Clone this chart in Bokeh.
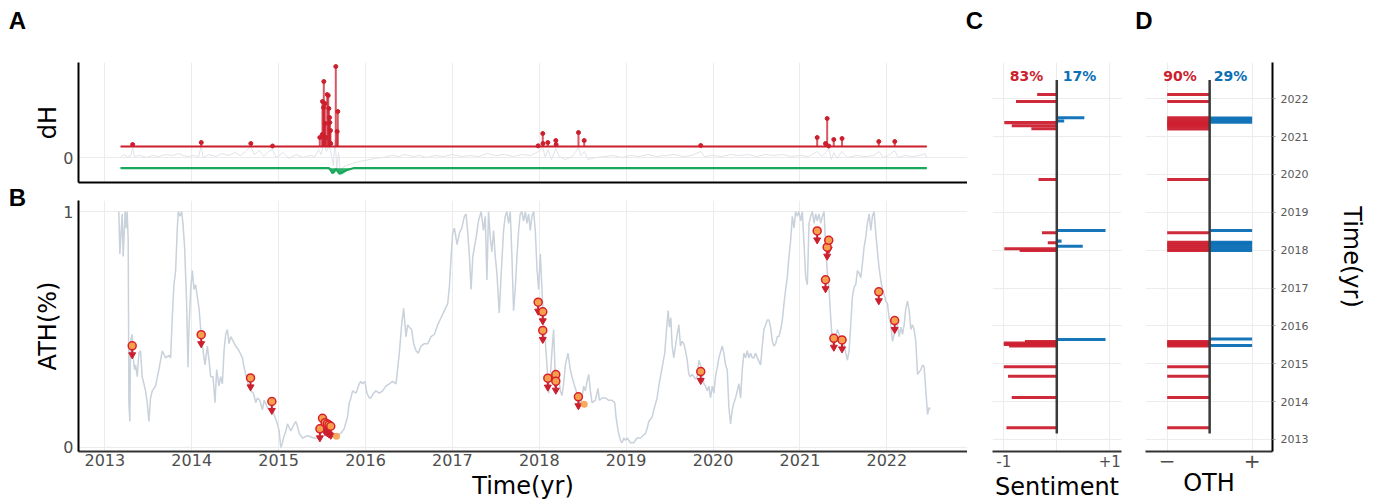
from bokeh.plotting import figure
from bokeh.layouts import row, column
from bokeh.models import FixedTicker, Grid, Range1d
from bokeh.core.properties import value
from bokeh.embed import file_html
from bokeh.resources import INLINE

years = [2013, 2014, 2015, 2016, 2017, 2018, 2019, 2020, 2021, 2022]

# ---------------- B: ATH(%) series ----------------
ath_t = [2013.161, 2013.173, 2013.188, 2013.200, 2013.211, 2013.223, 2013.234, 2013.246, 2013.257, 2013.269,
         2013.277, 2013.288, 2013.296, 2013.315, 2013.327, 2013.342, 2013.354, 2013.373, 2013.392, 2013.411,
         2013.430, 2013.450, 2013.469, 2013.488, 2013.507, 2013.526, 2013.546, 2013.584, 2013.622, 2013.661,
         2013.699, 2013.738, 2013.757, 2013.776, 2013.795, 2013.815, 2013.834, 2013.845, 2013.865, 2013.884,
         2013.899, 2013.918, 2013.941, 2013.957, 2013.968, 2013.988, 2014.007, 2014.026, 2014.045, 2014.064,
         2014.084, 2014.110, 2014.134, 2014.153, 2014.180, 2014.199, 2014.218, 2014.245, 2014.268, 2014.287,
         2014.314, 2014.333, 2014.353, 2014.372, 2014.391, 2014.410, 2014.429, 2014.449, 2014.479, 2014.506,
         2014.545, 2014.583, 2014.602, 2014.641, 2014.660, 2014.679, 2014.710, 2014.737, 2014.756, 2014.783,
         2014.814, 2014.833, 2014.871, 2014.890, 2014.929, 2014.948, 2014.987, 2015.006, 2015.025, 2015.044,
         2015.056, 2015.083, 2015.102, 2015.140, 2015.179, 2015.198, 2015.217, 2015.236, 2015.275, 2015.332,
         2015.409, 2015.455, 2015.505, 2015.563, 2015.601, 2015.659, 2015.717, 2015.755, 2015.793, 2015.813,
         2015.832, 2015.851, 2015.890, 2015.928, 2015.947, 2015.966, 2015.993, 2016.016, 2016.043, 2016.062,
         2016.093, 2016.120, 2016.159, 2016.197, 2016.235, 2016.274, 2016.312, 2016.351, 2016.389, 2016.416,
         2016.439, 2016.466, 2016.485, 2016.504, 2016.531, 2016.554, 2016.581, 2016.608, 2016.639, 2016.677,
         2016.716, 2016.754, 2016.793, 2016.831, 2016.869, 2016.908, 2016.946, 2016.965, 2016.985, 2017.004,
         2017.023, 2017.054, 2017.081, 2017.108, 2017.138, 2017.158, 2017.177, 2017.196, 2017.215, 2017.235,
         2017.254, 2017.273, 2017.300, 2017.331,
         2017.358, 2017.378, 2017.397, 2017.416, 2017.435, 2017.454, 2017.474, 2017.493, 2017.512, 2017.539,
         2017.562, 2017.589, 2017.608, 2017.627, 2017.647, 2017.666, 2017.685, 2017.704, 2017.723, 2017.743,
         2017.762, 2017.781, 2017.800, 2017.819, 2017.839, 2017.858, 2017.877, 2017.896, 2017.915, 2017.935,
         2017.954, 2017.973, 2017.992, 2018.012, 2018.031, 2018.050, 2018.069, 2018.088, 2018.108, 2018.127,
         2018.146, 2018.165, 2018.184, 2018.204, 2018.223, 2018.242, 2018.261, 2018.280, 2018.300, 2018.330,
         2018.357, 2018.376, 2018.407, 2018.434, 2018.453, 2018.473, 2018.492, 2018.511, 2018.530, 2018.549,
         2018.569, 2018.588, 2018.607, 2018.645, 2018.676, 2018.692, 2018.722, 2018.761, 2018.799, 2018.837,
         2018.868, 2018.883, 2018.907, 2018.934, 2018.953, 2018.972, 2018.991, 2019.011, 2019.049, 2019.087,
         2019.126, 2019.164, 2019.222, 2019.241, 2019.260, 2019.299, 2019.318, 2019.356, 2019.375, 2019.414,
         2019.444, 2019.464, 2019.483, 2019.498, 2019.514, 2019.529, 2019.548, 2019.567, 2019.587, 2019.606,
         2019.625, 2019.644, 2019.663, 2019.683, 2019.702, 2019.721, 2019.740, 2019.760, 2019.798, 2019.817,
         2019.836, 2019.856, 2019.875, 2019.894, 2019.913, 2019.932, 2019.952, 2019.971, 2019.990, 2020.009,
         2020.028, 2020.048, 2020.067, 2020.105, 2020.124, 2020.144, 2020.163, 2020.182, 2020.201, 2020.221,
         2020.240, 2020.259, 2020.278, 2020.298, 2020.317, 2020.336, 2020.355, 2020.374, 2020.393, 2020.413,
         2020.432, 2020.451, 2020.470, 2020.489, 2020.509, 2020.547, 2020.566, 2020.585, 2020.605, 2020.624,
         2020.643, 2020.662, 2020.682, 2020.701, 2020.720, 2020.739, 2020.758, 2020.778, 2020.797, 2020.816,
         2020.835, 2020.854, 2020.874, 2020.893, 2020.912, 2020.931, 2020.950, 2020.970, 2020.989, 2021.008,
         2021.027, 2021.047, 2021.066, 2021.085, 2021.104, 2021.123, 2021.143, 2021.162, 2021.181, 2021.200,
         2021.219, 2021.239, 2021.258, 2021.277, 2021.296, 2021.315, 2021.335, 2021.354, 2021.373, 2021.392,
         2021.411, 2021.431, 2021.450, 2021.469, 2021.488, 2021.507, 2021.527, 2021.546, 2021.565, 2021.584,
         2021.604, 2021.623, 2021.642, 2021.661, 2021.680, 2021.700, 2021.719, 2021.738, 2021.757, 2021.776,
         2021.796, 2021.815, 2021.834, 2021.853, 2021.872, 2021.892, 2021.911, 2021.930, 2021.949, 2021.968,
         2021.988, 2022.007, 2022.026, 2022.045, 2022.065, 2022.084, 2022.103, 2022.122, 2022.141, 2022.161,
         2022.180, 2022.199, 2022.218, 2022.237, 2022.257, 2022.276, 2022.295, 2022.314, 2022.333, 2022.353,
         2022.372, 2022.391, 2022.410, 2022.429, 2022.449, 2022.468, 2022.487, 2022.495]
ath_v = [1.0, 0.82, 0.92, 0.99, 0.81, 0.91, 1.0, 0.93, 1.0, 0.88,
         0.19, 0.11, 0.45, 0.48, 0.38, 0.33, 0.35, 0.30, 0.40, 0.41,
         0.30, 0.27, 0.24, 0.19, 0.11, 0.21, 0.24, 0.26, 0.33, 0.41,
         0.38, 0.39, 0.38, 0.55, 0.69, 0.75, 0.93, 1.0, 0.98, 1.0,
         0.95, 0.85, 0.62, 0.34, 0.50, 0.67, 0.75, 0.67, 0.69, 0.64,
         0.59, 0.47, 0.40, 0.35, 0.43, 0.37, 0.30, 0.30, 0.19, 0.33,
         0.26, 0.30, 0.27, 0.41, 0.48, 0.50, 0.44, 0.47, 0.45, 0.43,
         0.41, 0.38, 0.34, 0.28, 0.26, 0.24, 0.23, 0.19, 0.21, 0.20,
         0.16, 0.20, 0.17, 0.16, 0.17, 0.14, 0.10, 0.07, 0.00, 0.02,
         0.04, 0.07, 0.10, 0.07, 0.10, 0.11, 0.09, 0.06, 0.04, 0.05,
         0.04, 0.04, 0.07, 0.10, 0.04, 0.05, 0.06, 0.08, 0.13, 0.19,
         0.21, 0.24, 0.23, 0.27, 0.28, 0.27, 0.28, 0.23, 0.21, 0.21,
         0.23, 0.24, 0.23, 0.24, 0.26, 0.27, 0.28, 0.27, 0.40, 0.52,
         0.59, 0.47, 0.52, 0.51, 0.50, 0.44, 0.41, 0.40, 0.43, 0.44,
         0.44, 0.47, 0.48, 0.52, 0.55, 0.58, 0.61, 0.68, 0.81, 0.91,
         0.93, 0.86, 0.91, 0.93, 0.98, 0.99, 0.91, 0.81, 0.67, 0.81,
         0.85, 0.89, 0.96, 1.0,
         0.92, 0.98, 0.71, 1.0, 0.89, 0.83, 0.92, 0.81, 0.74, 0.57,
         0.74, 0.92, 0.98, 1.0, 0.95, 1.0, 0.81, 0.58, 0.67, 0.81,
         0.92, 0.99, 1.0, 0.96, 1.0, 0.95, 0.99, 0.92, 0.98, 1.0,
         0.92, 0.76, 0.67, 0.82, 0.67, 0.52, 0.45, 0.35, 0.23, 0.30,
         0.41, 0.50, 0.30, 0.28, 0.30, 0.24, 0.22, 0.27, 0.35, 0.40,
         0.33, 0.30, 0.26, 0.23, 0.20, 0.18, 0.21, 0.26, 0.24, 0.28,
         0.31, 0.24, 0.19, 0.20, 0.25, 0.20, 0.21, 0.21, 0.20, 0.20,
         0.19, 0.13, 0.07, 0.03, 0.02, 0.04, 0.03, 0.04, 0.02, 0.02,
         0.04, 0.04, 0.06, 0.08, 0.11, 0.13, 0.16, 0.21, 0.26, 0.34,
         0.40, 0.50, 0.58, 0.51, 0.55, 0.43, 0.38, 0.43, 0.48, 0.52,
         0.43, 0.45, 0.44, 0.41, 0.37, 0.31, 0.30, 0.31, 0.29, 0.30,
         0.37, 0.35, 0.31, 0.27, 0.26, 0.24, 0.26, 0.21, 0.26, 0.23,
         0.30, 0.34, 0.38, 0.43, 0.40, 0.35, 0.33, 0.17, 0.10, 0.16,
         0.19, 0.21, 0.24, 0.27, 0.21, 0.33, 0.40, 0.38, 0.41, 0.38,
         0.40, 0.38, 0.38, 0.40, 0.38, 0.35, 0.43, 0.50, 0.52, 0.54,
         0.54, 0.51, 0.45, 0.43, 0.44, 0.47, 0.47, 0.50, 0.54, 0.61,
         0.67, 0.72, 0.81, 0.88, 0.98, 0.93, 1.0, 0.98, 1.0, 0.96,
         1.0, 0.86, 0.72, 0.69, 0.95, 0.98, 1.0, 0.95, 0.99, 0.96,
         0.99, 0.95, 0.98, 1.0, 0.85, 0.74, 0.67, 0.55, 0.45, 0.43,
         0.47, 0.50, 0.48, 0.45, 0.43, 0.44, 0.40, 0.37, 0.41, 0.52,
         0.64, 0.68, 0.69, 0.75, 0.74, 0.72, 0.78, 0.85, 0.89, 0.95,
         0.99, 0.92, 0.98, 1.0, 0.91, 0.83, 0.76, 0.71, 0.67, 0.65,
         0.62, 0.61, 0.55, 0.52, 0.45, 0.48, 0.50, 0.52, 0.47, 0.51,
         0.48, 0.52, 0.59, 0.62, 0.58, 0.50, 0.52, 0.50, 0.45, 0.31,
         0.32, 0.33, 0.35, 0.34, 0.24, 0.14, 0.17, 0.16]

# signal events (circle + down arrow) on ATH curve
sig_t = [2013.315, 2014.109, 2014.677, 2014.922, 2015.475, 2015.505, 2015.535, 2015.56, 2015.58, 2015.60,
         2017.987, 2018.04, 2018.04, 2018.098, 2018.19, 2018.19, 2018.45, 2019.858,
         2021.198, 2021.294, 2021.313, 2021.331, 2021.39, 2021.484, 2021.907, 2022.09]
sig_v = [0.431, 0.478, 0.295, 0.195, 0.079, 0.124, 0.105, 0.10, 0.095, 0.09,
         0.616, 0.575, 0.496, 0.294, 0.309, 0.281, 0.215, 0.322,
         0.918, 0.711, 0.849, 0.878, 0.463, 0.456, 0.66, 0.538]
# positive events (plain orange dots)
pos_t = [2015.666, 2018.517]
pos_v = [0.048, 0.183]

# ---------------- A: dH ----------------
dh_t = [2013.18, 2013.22, 2013.26, 2013.30, 2013.32, 2013.34, 2013.40, 2013.48, 2013.55, 2013.62,
        2013.70, 2013.78, 2013.85, 2013.90, 2013.96, 2014.02, 2014.08, 2014.11, 2014.13, 2014.20,
        2014.28, 2014.35, 2014.42, 2014.50, 2014.56, 2014.62, 2014.68, 2014.72, 2014.78, 2014.83,
        2014.88, 2014.93, 2014.97, 2015.05, 2015.12, 2015.20, 2015.28, 2015.36, 2015.42, 2015.46,
        2015.49, 2015.52, 2015.55, 2015.58, 2015.61, 2015.63, 2015.65, 2015.67, 2015.69, 2015.71,
        2015.74, 2015.78, 2015.85, 2015.92, 2016.00, 2016.10, 2016.20, 2016.30, 2016.38, 2016.45,
        2016.55, 2016.62, 2016.70, 2016.80, 2016.90, 2017.00, 2017.10, 2017.20, 2017.30, 2017.40,
        2017.50, 2017.60, 2017.70, 2017.80, 2017.90, 2017.99, 2018.04, 2018.07, 2018.10, 2018.14,
        2018.19, 2018.23, 2018.30, 2018.38, 2018.45, 2018.48, 2018.52, 2018.56, 2018.65, 2018.75,
        2018.85, 2018.95, 2019.05, 2019.15, 2019.25, 2019.35, 2019.45, 2019.55, 2019.65, 2019.75,
        2019.86, 2019.90, 2020.00, 2020.10, 2020.20, 2020.30, 2020.40, 2020.50, 2020.60, 2020.70,
        2020.80, 2020.90, 2021.00, 2021.10, 2021.20, 2021.25, 2021.30, 2021.33, 2021.36, 2021.39,
        2021.43, 2021.48, 2021.55, 2021.65, 2021.75, 2021.85, 2021.91, 2021.96, 2022.02, 2022.09,
        2022.13, 2022.20, 2022.30, 2022.38, 2022.44, 2022.46]
dh_v = [0.00, 0.03, 0.01, 0.02, 0.10, 0.01, 0.02, 0.00, 0.02, 0.01,
        0.03, 0.02, 0.04, 0.02, 0.01, 0.02, 0.01, 0.12, 0.00, 0.03,
        0.01, 0.04, 0.02, 0.05, 0.02, 0.06, 0.11, 0.03, 0.07, 0.01,
        0.06, 0.08, 0.00, 0.05, -0.01, 0.03, 0.00, 0.02, 0.01, 0.08,
        0.03, 0.15, 0.06, 0.12, 0.02, -0.08, 0.18, -0.12, 0.05, -0.14,
        -0.10, -0.08, -0.06, -0.04, -0.03, -0.01, 0.00, 0.02, 0.01, 0.03,
        0.01, 0.02, 0.00, 0.02, 0.01, 0.03, 0.01, 0.02, 0.01, 0.04,
        0.02, 0.03, 0.01, 0.03, 0.02, 0.06, 0.10, 0.00, 0.08, -0.02,
        0.09, 0.01, -0.02, 0.01, 0.10, 0.02, 0.06, -0.02, 0.00, 0.01,
        0.02, 0.00, 0.02, 0.01, 0.03, 0.01, 0.02, 0.03, 0.01, 0.02,
        0.06, 0.01, 0.02, 0.01, 0.03, 0.02, 0.03, 0.01, 0.03, 0.02,
        0.03, 0.01, 0.02, 0.01, 0.06, 0.01, 0.05, 0.09, -0.02, 0.05,
        -0.01, 0.06, 0.00, 0.02, 0.01, 0.02, 0.06, 0.00, 0.02, 0.07,
        0.00, 0.02, 0.01, 0.02, 0.04, 0.00]

# positive dH stems (height above red baseline)
stem_t = [2013.32, 2014.11, 2014.68, 2014.93,
          2015.474, 2015.502, 2015.505, 2015.517, 2015.520, 2015.532, 2015.535, 2015.543, 2015.559,
          2015.571, 2015.578, 2015.586, 2015.589, 2015.597, 2015.600, 2015.658, 2015.674, 2015.681,
          2017.987, 2018.04, 2018.043, 2018.098, 2018.19, 2018.194, 2018.451, 2018.517, 2019.858,
          2021.198, 2021.294, 2021.313, 2021.331, 2021.389, 2021.484, 2021.907, 2022.091]
stem_h = [0.02, 0.04, 0.03, 0.005,
          0.09, 0.12, 0.45, 0.39, 0.65, 0.43, 0.23, 0.09, 0.52,
          0.51, 0.38, 0.29, 0.24, 0.16, 0.03, 0.80, 0.15, 0.35,
          0.007, 0.13, 0.03, 0.04, 0.06, 0.02, 0.14, 0.06, 0.01,
          0.09, 0.03, 0.28, 0.005, 0.07, 0.08, 0.05, 0.05]

# negative dH (below green baseline)
green_t = [2015.58, 2015.60, 2015.62, 2015.64, 2015.66, 2015.68, 2015.70, 2015.72, 2015.75, 2015.78, 2015.82, 2015.86]
green_v = [0.0, -0.02, -0.05, -0.035, -0.01, -0.03, -0.055, -0.05, -0.035, -0.02, -0.01, 0.0]

# ---------------- C: Sentiment ----------------
c_neg_t = [2013.31, 2014.11, 2014.67, 2014.92, 2015.47, 2015.51, 2015.55, 2015.59,
           2017.99, 2018.04, 2018.195, 2018.46, 2019.87, 2021.21, 2021.29, 2021.37, 2021.93, 2022.11]
c_neg_v = [-0.95, -0.85, -0.92, -1.0, -0.9, -1.0, -1.0, -0.6,
           -0.7, -0.99, -0.17, -0.28, -0.345, -0.48, -0.85, -0.99, -0.77, -0.37]
c_pos_t = [2015.64, 2018.105, 2018.24, 2018.52, 2021.41, 2021.50]
c_pos_v = [0.92, 0.49, 0.09, 0.92, 0.14, 0.52]
c_labels = ["83%", "17%"]

# ---------------- D: OTH ----------------
d_neg_t = [2013.31, 2014.11, 2014.67, 2014.92, 2015.47, 2015.51, 2015.55, 2015.59,
           2017.99, 2018.04, 2018.10, 2018.15, 2018.21, 2018.46, 2019.87,
           2021.20, 2021.27, 2021.31, 2021.35, 2021.39, 2021.44, 2021.50, 2021.93, 2022.11]
d_neg_v = [-1, -1, -1, -1, -1, -1, -1, -1,
           -1, -1, -1, -1, -1, -1, -1,
           -1, -1, -1, -1, -1, -1, -1, -1, -1]
d_pos_t = [2015.485, 2015.655, 2017.99, 2018.05, 2018.11, 2018.17, 2018.21, 2018.52, 2021.38, 2021.44, 2021.49]
d_pos_v = [1, 1, 1, 1, 1, 1, 1, 1, 1, 1, 1]
d_labels = ["90%", "29%"]

panel_letters = ["A", "B", "C", "D"]

# ---------------- styles ----------------
RED = "#cc1f2e"
BLUE = "#0b6fb5"
GREEN = "#17a85b"
ORANGE = "#f6a04d"
GRAY_LINE = "#c9d1db"
GRID = "#ececec"
TICK_COLOR = "#4d4d4d"
TITLE_FONT = "DejaVu Sans"
TICK_FONT = "DejaVu Sans"
X0, X1 = 2012.697, 2022.928
Y0, Y1 = 2012.683, 2022.958
RED_BASE = 0.11
GREEN_BASE = -0.107
BAR_H = 0.08
HEAD_H = 62          # header strip height (panel letters)
TOTAL_W, TOTAL_H = 1385, 504
BOTTOM = 53          # common bottom border
LEFT_B = 50          # left border of panels A/B
STRIP_W = 28


def base_fig(**kw):
    p = figure(output_backend="svg", toolbar_location=None, **kw)
    p.outline_line_color = None
    p.background_fill_color = "white"
    p.border_fill_color = "white"
    for ax in p.axis:
        ax.major_label_text_font = TICK_FONT
        ax.major_label_text_color = TICK_COLOR
        ax.axis_label_text_font = TITLE_FONT
        ax.axis_label_text_font_style = "normal"
        ax.axis_label_text_font_size = "24px"
        ax.axis_label_text_color = "black"
        ax.minor_tick_line_color = None
        ax.major_tick_in = 0
    for g in p.grid:
        g.grid_line_color = GRID
        g.grid_line_width = 1
    return p


def blank_fig(w, h, bottom=0):
    p = figure(width=w, height=h, x_range=Range1d(0, w), y_range=Range1d(h - bottom, 0),
               x_axis_location=None, y_axis_location=None, output_backend="svg",
               toolbar_location=None, min_border_left=0, min_border_right=0,
               min_border_top=0, min_border_bottom=bottom)
    p.outline_line_color = None
    p.background_fill_color = "white"
    p.border_fill_color = "white"
    for g in p.grid:
        g.visible = False
    return p


def letters(p, xs, ys, texts):
    p.text(x=xs, y=ys, text=texts, text_font=value("Liberation Sans"), text_font_style="bold",
           text_font_size="24px", text_align="center", text_baseline="middle", text_color="black")


t_first, t_last = min(dh_t), max(dh_t)

# ---------------- header with panel letters A, C, D ----------------
head = blank_fig(TOTAL_W, HEAD_H)
letters(head, [17, 974, 1143.5], [20, 20, 20], [panel_letters[0], panel_letters[2], panel_letters[3]])

# ---------------- left strip with letter B ----------------
strip = blank_fig(STRIP_W, TOTAL_H - HEAD_H, bottom=BOTTOM)
letters(strip, [17], [197 - HEAD_H], [panel_letters[1]])

# ---------------- Panel A ----------------
pA = base_fig(frame_width=889, frame_height=120, x_range=Range1d(X0, X1), y_range=Range1d(-0.25, 0.95),
              min_border_left=LEFT_B, min_border_right=0, min_border_top=0, min_border_bottom=4)
pA.xaxis.ticker = FixedTicker(ticks=[])
pA.xaxis.major_tick_out = 0
pA.xaxis.axis_line_color = "black"
pA.xaxis.axis_line_width = 2
pA.xgrid.ticker = FixedTicker(ticks=years)
pA.yaxis.ticker = FixedTicker(ticks=[0])
pA.ygrid.ticker = FixedTicker(ticks=[0])
pA.yaxis.major_tick_out = 0
pA.yaxis.major_label_standoff = 5
pA.yaxis.major_label_text_font_size = "16px"
pA.yaxis.axis_line_color = "black"
pA.yaxis.axis_line_width = 2
pA.yaxis.axis_label = "dH"
pA.yaxis.axis_label_standoff = -2

pA.line(dh_t, dh_v, line_color="#dfe3e8", line_width=1)
pA.line([t_first, t_last], [RED_BASE, RED_BASE], line_color=RED, line_width=2)
g_x = [t_first] + green_t + [t_last]
g_y = [GREEN_BASE] + [GREEN_BASE + v for v in green_v] + [GREEN_BASE]
pA.varea(x=green_t, y1=[GREEN_BASE] * len(green_t), y2=[GREEN_BASE + v for v in green_v],
         fill_color=GREEN, fill_alpha=0.9)
pA.line(g_x, g_y, line_color=GREEN, line_width=2.2)
tops = [RED_BASE + h for h in stem_h]
pA.segment(x0=stem_t, y0=[RED_BASE] * len(stem_t), x1=stem_t, y1=tops,
           line_color=RED, line_width=2, line_alpha=0.75)
pA.scatter(stem_t, tops, size=4, fill_color=RED, line_color=RED)

# ---------------- Panel B ----------------
BY0, BY1 = -0.017, 1.047
pB = base_fig(frame_width=889, frame_height=251, x_range=Range1d(X0, X1), y_range=Range1d(BY0, BY1),
              min_border_left=LEFT_B, min_border_right=0, min_border_top=14, min_border_bottom=BOTTOM)
pB.xaxis.ticker = FixedTicker(ticks=years)
pB.xaxis.major_tick_out = 0
pB.xaxis.major_label_standoff = 2
pB.xaxis.major_label_text_font_size = "16px"
pB.xaxis.axis_line_color = "#333333"
pB.xaxis.axis_line_width = 2
pB.xaxis.axis_label = "Time(yr)"
pB.xaxis.axis_label_standoff = 3
pB.yaxis.ticker = FixedTicker(ticks=[0, 1])
pB.yaxis.major_tick_out = 0
pB.yaxis.major_label_standoff = 5
pB.yaxis.major_label_text_font_size = "16px"
pB.yaxis.axis_line_color = "black"
pB.yaxis.axis_line_width = 2
pB.yaxis.axis_label = "ATH(%)"
pB.yaxis.axis_label_standoff = -2

n = min(len(ath_t), len(ath_v))
pB.line(ath_t[:n], ath_v[:n], line_color=GRAY_LINE, line_width=1.5)
PX = (BY1 - BY0) / 251.0
pB.segment(x0=sig_t, y0=sig_v, x1=sig_t, y1=[v - 7 * PX for v in sig_v], line_color=RED, line_width=2)
pB.scatter(sig_t, [v - 9 * PX for v in sig_v], marker="inverted_triangle", size=7,
           fill_color=RED, line_color=RED)
pB.scatter(sig_t, sig_v, size=8, fill_color=ORANGE, line_color="#d6202c", line_width=1.5)
pB.scatter(pos_t, pos_v, size=7, fill_color=ORANGE, line_color=None, fill_alpha=0.9)

# ---------------- Panel C ----------------
pC = base_fig(frame_width=129, frame_height=389, x_range=Range1d(-1.213, 1.221), y_range=Range1d(Y0, Y1),
              y_axis_location=None, min_border_left=25, min_border_right=12, min_border_top=0,
              min_border_bottom=BOTTOM)
pC.xaxis.ticker = FixedTicker(ticks=[-1, 1])
pC.xaxis.major_label_overrides = {-1: "-1", 1: "+1"}
pC.xaxis.major_tick_out = 0
pC.xaxis.major_label_standoff = 3
pC.xaxis.major_label_text_font_size = "15px"
pC.xaxis.axis_line_color = "#333333"
pC.xaxis.axis_line_width = 2
pC.xaxis.axis_label = "Sentiment"
pC.xaxis.axis_label_standoff = 3
pC.xgrid.ticker = FixedTicker(ticks=[-1, 0, 1])
pC.add_layout(Grid(dimension=1, ticker=FixedTicker(ticks=years), grid_line_color=GRID, grid_line_width=1))
pC.hbar(y=c_neg_t, left=c_neg_v, right=0, height=BAR_H, fill_color=RED, line_color=None, fill_alpha=0.95)
pC.hbar(y=c_pos_t, left=0, right=c_pos_v, height=BAR_H, fill_color=BLUE, line_color=None, fill_alpha=0.95)
pC.segment(x0=[0], y0=[min(ath_t)], x1=[0], y1=[max(ath_t)], line_color="#3a3a3a", line_width=2.5)
pC.text(x=[-0.57, 0.43], y=[2022.606, 2022.606], text=c_labels, text_color=[RED, BLUE],
        text_font=value("DejaVu Sans"), text_font_style="bold", text_font_size="14px",
        text_align="center", text_baseline="middle")

# ---------------- Panel D ----------------
pD = base_fig(frame_width=127, frame_height=389, x_range=Range1d(-1.51, 1.48), y_range=Range1d(Y0, Y1),
              y_axis_location="right", min_border_left=12, min_border_right=105, min_border_top=0,
              min_border_bottom=BOTTOM)
pD.xaxis.ticker = FixedTicker(ticks=[-1, 1])
pD.xaxis.major_label_overrides = {-1: "\u2212", 1: "+"}
pD.xaxis.major_tick_out = 0
pD.xaxis.major_label_standoff = 2
pD.xaxis.major_label_text_font_size = "20px"
pD.xaxis.axis_line_color = "#333333"
pD.xaxis.axis_line_width = 2
pD.xaxis.axis_label = "OTH"
pD.xaxis.axis_label_standoff = -2
pD.xgrid.ticker = FixedTicker(ticks=[-1, 1])
pD.yaxis.ticker = FixedTicker(ticks=years)
pD.yaxis.major_tick_out = 3
pD.yaxis.major_tick_line_color = "#9a9a9a"
pD.yaxis.major_label_standoff = 5
pD.yaxis.major_label_text_font_size = "11px"
pD.yaxis.major_label_text_color = "#5a5a5a"
pD.yaxis.axis_line_color = "black"
pD.yaxis.axis_line_width = 2
pD.yaxis.axis_label = "Time(yr)"
pD.yaxis.axis_label_standoff = 27
pD.hbar(y=d_neg_t, left=d_neg_v, right=0, height=BAR_H, fill_color=RED, line_color=None, fill_alpha=0.95)
pD.hbar(y=d_pos_t, left=0, right=d_pos_v, height=BAR_H, fill_color=BLUE, line_color=None, fill_alpha=0.95)
pD.segment(x0=[0], y0=[min(ath_t)], x1=[0], y1=[max(ath_t)], line_color="#3a3a3a", line_width=2.5)
pD.text(x=[-0.70, 0.49], y=[2022.606, 2022.606], text=d_labels, text_color=[RED, BLUE],
        text_font=value("DejaVu Sans"), text_font_style="bold", text_font_size="14px",
        text_align="center", text_baseline="middle")

layout = column(head, row(strip, column(pA, pB), pC, pD))
open("out.html", "w").write(file_html(layout, INLINE, title="chart"))
